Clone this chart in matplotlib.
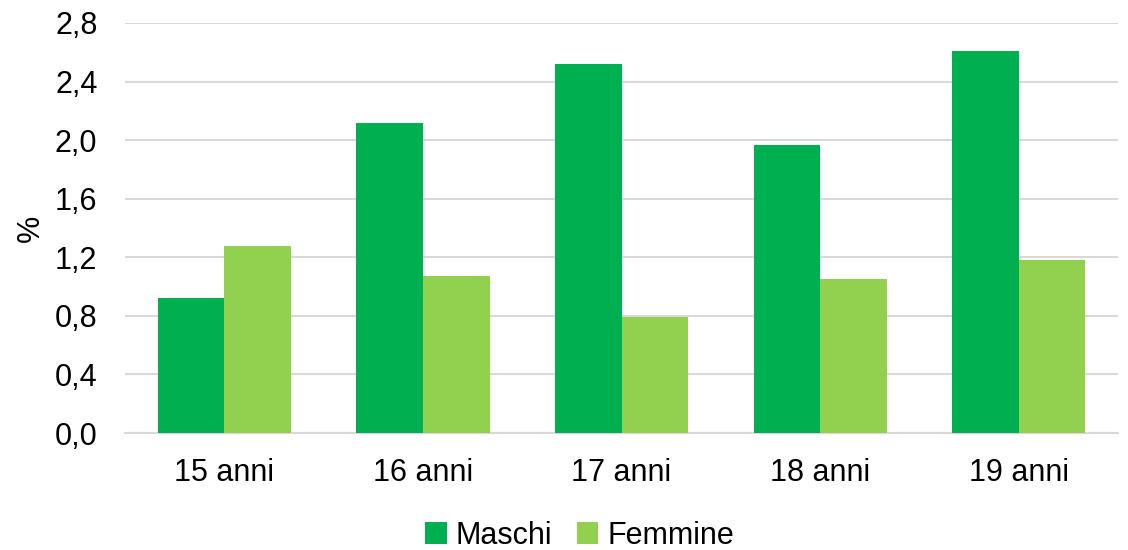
import matplotlib.pyplot as plt
import numpy as np

plt.rcParams['font.family'] = ['Liberation Sans', 'DejaVu Sans']

categories = ['15 anni', '16 anni', '17 anni', '18 anni', '19 anni']
maschi = [0.92, 2.12, 2.52, 1.97, 2.61]
femmine = [1.28, 1.07, 0.79, 1.05, 1.18]
yticks = [0.0, 0.4, 0.8, 1.2, 1.6, 2.0, 2.4, 2.8]

fig = plt.figure(figsize=(11.28, 5.5), dpi=100)
ax = fig.add_axes([0.111, 0.2127, 0.880, 0.7455])

x = np.arange(len(categories))
w = 0.335
ax.bar(x - w / 2, maschi, w, color='#00B050', label='Maschi', zorder=3)
ax.bar(x + w / 2, femmine, w, color='#92D050', label='Femmine', zorder=3)

ax.set_xlim(-0.5, 4.5)
ax.set_ylim(0, 2.8)
ax.set_yticks(yticks)
ax.set_yticklabels([f'{v:.1f}'.replace('.', ',') for v in yticks])
ax.set_xticks(x)
ax.set_xticklabels(categories)
ax.tick_params(axis='both', length=0, labelsize=22)
ax.tick_params(axis='x', pad=18)
ax.tick_params(axis='y', pad=20)
ax.grid(axis='y', color='#D9D9D9', linewidth=1.5, zorder=0)
for s in ['top', 'right', 'left']:
    ax.spines[s].set_visible(False)
ax.spines['bottom'].set_color('#D9D9D9')
ax.spines['bottom'].set_linewidth(1.5)
ax.set_ylabel('%', fontsize=22, labelpad=6)

ax.legend(loc='center', bbox_to_anchor=(0.514, 0.026), bbox_transform=fig.transFigure,
          ncol=2, frameon=False, fontsize=22, handlelength=0.7, handleheight=0.7,
          handletextpad=0.3, columnspacing=0.8, borderpad=0)

plt.savefig('out.png', dpi=100)
